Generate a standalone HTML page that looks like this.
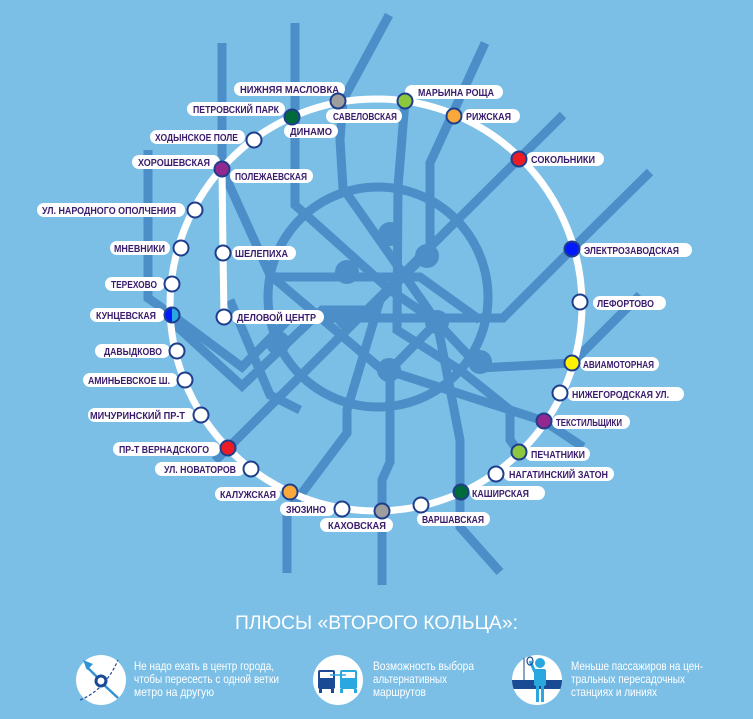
<!DOCTYPE html>
<html><head><meta charset="utf-8"><style>
html,body{margin:0;padding:0;background:#7bbfe7;}
svg{display:block}
.l{fill:none;stroke:#4b8ec8;stroke-width:9;stroke-linejoin:miter}
.lb{fill:#fff}
.t{font-family:"Liberation Sans","DejaVu Sans",sans-serif;font-size:10px;fill:#3a1c6c;font-weight:bold}
.s{stroke:#1f3e8c;stroke-width:2}
.w{font-family:"Liberation Sans","DejaVu Sans",sans-serif;fill:#fff}
</style></head><body>
<svg width="753" height="719" viewBox="0 0 753 719" xmlns="http://www.w3.org/2000/svg">
<rect width="753" height="719" fill="#7bbfe7"/>
<circle cx="378" cy="297" r="110" class="l"/>
<polyline class="l" points="563,115 228,448 215,461"/>
<polyline class="l" points="650,172 572,249 503,318 290,318 242,367 172,315 148,298 148,150"/>
<polyline class="l" points="172,322 242,386 322,310 380,310"/>
<polyline class="l" points="222,43 222,169 270,275 380,368 544,421 583,447"/>
<polyline class="l" points="295,23 295,205 390,290 437,322 460,440 460,527 500,572"/>
<polyline class="l" points="389,15 343,100 340,140 343,188 437,322 390,370 390,462 382,480 382,585"/>
<polyline class="l" points="485,43 430,163 430,250 380,300 347,410 347,433 287,513 287,573"/>
<polyline class="l" points="640,295 572,363 480,368 437,322"/>
<polyline class="l" points="405,101 398,187 397,330 460,370 510,410 510,440 519,452"/>
<polyline class="l" points="273,277 420,277 480,320"/>
<polyline class="l" points="230,300 270,395 300,410"/>
<g fill="#4b8ec8">
<circle cx="390" cy="234" r="12"/><circle cx="427" cy="256" r="12"/><circle cx="347" cy="272" r="12"/>
<circle cx="347" cy="318" r="12"/><circle cx="437" cy="322" r="12"/><circle cx="389" cy="370" r="12"/>
<circle cx="480" cy="362" r="12"/><circle cx="278" cy="343" r="12"/>
</g>
<circle cx="376" cy="305" r="206" fill="none" stroke="#fff" stroke-width="7"/>
<polyline points="222,169 223,253 224,317" fill="none" stroke="#fff" stroke-width="7"/>
<g>
<rect class="lb" x="234" y="82" width="111" height="14" rx="7"/><text class="t" x="240" y="93" textLength="99" lengthAdjust="spacingAndGlyphs">НИЖНЯЯ МАСЛОВКА</text>
<rect class="lb" x="187" y="102" width="98" height="14" rx="7"/><text class="t" x="193" y="113" textLength="86" lengthAdjust="spacingAndGlyphs">ПЕТРОВСКИЙ ПАРК</text>
<rect class="lb" x="326" y="109" width="76" height="14" rx="7"/><text class="t" x="333" y="120" textLength="64" lengthAdjust="spacingAndGlyphs">САВЕЛОВСКАЯ</text>
<rect class="lb" x="284" y="124" width="54" height="14" rx="7"/><text class="t" x="290" y="135" textLength="42" lengthAdjust="spacingAndGlyphs">ДИНАМО</text>
<rect class="lb" x="150" y="130" width="95" height="14" rx="7"/><text class="t" x="155" y="141" textLength="83" lengthAdjust="spacingAndGlyphs">ХОДЫНСКОЕ ПОЛЕ</text>
<rect class="lb" x="132" y="155" width="88" height="14" rx="7"/><text class="t" x="138" y="166" textLength="72" lengthAdjust="spacingAndGlyphs">ХОРОШЕВСКАЯ</text>
<rect class="lb" x="230" y="169" width="83" height="14" rx="7"/><text class="t" x="235" y="180" textLength="72" lengthAdjust="spacingAndGlyphs">ПОЛЕЖАЕВСКАЯ</text>
<rect class="lb" x="405" y="85" width="98" height="14" rx="7"/><text class="t" x="418" y="96" textLength="76" lengthAdjust="spacingAndGlyphs">МАРЬИНА РОЩА</text>
<rect class="lb" x="463" y="109" width="57" height="14" rx="7"/><text class="t" x="466" y="120" textLength="45" lengthAdjust="spacingAndGlyphs">РИЖСКАЯ</text>
<rect class="lb" x="526" y="152" width="78" height="14" rx="7"/><text class="t" x="531" y="163" textLength="64" lengthAdjust="spacingAndGlyphs">СОКОЛЬНИКИ</text>
<rect class="lb" x="37" y="203" width="148" height="14" rx="7"/><text class="t" x="42" y="214" textLength="134" lengthAdjust="spacingAndGlyphs">УЛ. НАРОДНОГО ОПОЛЧЕНИЯ</text>
<rect class="lb" x="110" y="241" width="60" height="14" rx="7"/><text class="t" x="114" y="252" textLength="51" lengthAdjust="spacingAndGlyphs">МНЕВНИКИ</text>
<rect class="lb" x="105" y="277" width="60" height="14" rx="7"/><text class="t" x="111" y="288" textLength="46" lengthAdjust="spacingAndGlyphs">ТЕРЕХОВО</text>
<rect class="lb" x="90" y="308" width="75" height="14" rx="7"/><text class="t" x="96" y="319" textLength="60" lengthAdjust="spacingAndGlyphs">КУНЦЕВСКАЯ</text>
<rect class="lb" x="95" y="344" width="75" height="14" rx="7"/><text class="t" x="104" y="355" textLength="58" lengthAdjust="spacingAndGlyphs">ДАВЫДКОВО</text>
<rect class="lb" x="83" y="373" width="95" height="14" rx="7"/><text class="t" x="88" y="384" textLength="82" lengthAdjust="spacingAndGlyphs">АМИНЬЕВСКОЕ Ш.</text>
<rect class="lb" x="88" y="408" width="107" height="14" rx="7"/><text class="t" x="90" y="419" textLength="95" lengthAdjust="spacingAndGlyphs">МИЧУРИНСКИЙ ПР-Т</text>
<rect class="lb" x="113" y="442" width="107" height="14" rx="7"/><text class="t" x="119" y="453" textLength="90" lengthAdjust="spacingAndGlyphs">ПР-Т ВЕРНАДСКОГО</text>
<rect class="lb" x="155" y="462" width="90" height="14" rx="7"/><text class="t" x="164" y="473" textLength="72" lengthAdjust="spacingAndGlyphs">УЛ. НОВАТОРОВ</text>
<rect class="lb" x="215" y="487" width="65" height="14" rx="7"/><text class="t" x="220" y="498" textLength="56" lengthAdjust="spacingAndGlyphs">КАЛУЖСКАЯ</text>
<rect class="lb" x="280" y="502" width="55" height="14" rx="7"/><text class="t" x="286" y="513" textLength="40" lengthAdjust="spacingAndGlyphs">ЗЮЗИНО</text>
<rect class="lb" x="320" y="518" width="73" height="14" rx="7"/><text class="t" x="328" y="529" textLength="58" lengthAdjust="spacingAndGlyphs">КАХОВСКАЯ</text>
<rect class="lb" x="417" y="512" width="73" height="14" rx="7"/><text class="t" x="422" y="523" textLength="62" lengthAdjust="spacingAndGlyphs">ВАРШАВСКАЯ</text>
<rect class="lb" x="470" y="486" width="75" height="14" rx="7"/><text class="t" x="472" y="497" textLength="57" lengthAdjust="spacingAndGlyphs">КАШИРСКАЯ</text>
<rect class="lb" x="503" y="467" width="111" height="14" rx="7"/><text class="t" x="509" y="478" textLength="99" lengthAdjust="spacingAndGlyphs">НАГАТИНСКИЙ ЗАТОН</text>
<rect class="lb" x="525" y="447" width="65" height="14" rx="7"/><text class="t" x="531" y="458" textLength="54" lengthAdjust="spacingAndGlyphs">ПЕЧАТНИКИ</text>
<rect class="lb" x="552" y="415" width="78" height="14" rx="7"/><text class="t" x="556" y="426" textLength="66" lengthAdjust="spacingAndGlyphs">ТЕКСТИЛЬЩИКИ</text>
<rect class="lb" x="567" y="387" width="117" height="14" rx="7"/><text class="t" x="572" y="398" textLength="97" lengthAdjust="spacingAndGlyphs">НИЖЕГОРОДСКАЯ УЛ.</text>
<rect class="lb" x="580" y="357" width="79" height="14" rx="7"/><text class="t" x="583" y="368" textLength="71" lengthAdjust="spacingAndGlyphs">АВИАМОТОРНАЯ</text>
<rect class="lb" x="593" y="296" width="73" height="14" rx="7"/><text class="t" x="597" y="307" textLength="57" lengthAdjust="spacingAndGlyphs">ЛЕФОРТОВО</text>
<rect class="lb" x="580" y="243" width="112" height="14" rx="7"/><text class="t" x="584" y="254" textLength="95" lengthAdjust="spacingAndGlyphs">ЭЛЕКТРОЗАВОДСКАЯ</text>
<rect class="lb" x="232" y="246" width="64" height="14" rx="7"/><text class="t" x="235" y="257" textLength="53" lengthAdjust="spacingAndGlyphs">ШЕЛЕПИХА</text>
<rect class="lb" x="232" y="310" width="92" height="14" rx="7"/><text class="t" x="237" y="321" textLength="79" lengthAdjust="spacingAndGlyphs">ДЕЛОВОЙ ЦЕНТР</text>
</g>
<g class="s">
<circle cx="338" cy="101" r="7.5" fill="#9e9e9e"/>
<circle cx="405" cy="101" r="7.5" fill="#8dc63f"/>
<circle cx="454" cy="116" r="7.5" fill="#f9a83a"/>
<circle cx="292" cy="117" r="7.5" fill="#006b3a"/>
<circle cx="254" cy="140" r="7.5" fill="#fff"/>
<circle cx="222" cy="169" r="7.5" fill="#92278f"/>
<circle cx="519" cy="159" r="7.5" fill="#ed1c24"/>
<circle cx="195" cy="210" r="7.5" fill="#fff"/>
<circle cx="181" cy="248" r="7.5" fill="#fff"/>
<circle cx="172" cy="284" r="7.5" fill="#fff"/>
<circle cx="177" cy="351" r="7.5" fill="#fff"/>
<circle cx="185" cy="380" r="7.5" fill="#fff"/>
<circle cx="201" cy="415" r="7.5" fill="#fff"/>
<circle cx="228" cy="448" r="7.5" fill="#ed1c24"/>
<circle cx="251" cy="469" r="7.5" fill="#fff"/>
<circle cx="290" cy="492" r="7.5" fill="#f9a83a"/>
<circle cx="342" cy="509" r="7.5" fill="#fff"/>
<circle cx="382" cy="511" r="7.5" fill="#9e9e9e"/>
<circle cx="421" cy="505" r="7.5" fill="#fff"/>
<circle cx="461" cy="492" r="7.5" fill="#006b3a"/>
<circle cx="496" cy="474" r="7.5" fill="#fff"/>
<circle cx="519" cy="452" r="7.5" fill="#8dc63f"/>
<circle cx="544" cy="421" r="7.5" fill="#92278f"/>
<circle cx="560" cy="393" r="7.5" fill="#fff"/>
<circle cx="572" cy="363" r="7.5" fill="#fff200"/>
<circle cx="580" cy="302" r="7.5" fill="#fff"/>
<circle cx="572" cy="249" r="7.5" fill="#0019ff"/>
<circle cx="223" cy="253" r="7.5" fill="#fff"/>
<circle cx="224" cy="317" r="7.5" fill="#fff"/>
</g>
<path d="M172,307.5 A7.5,7.5 0 0 0 172,322.5 Z" fill="#0019ff"/>
<path d="M172,307.5 A7.5,7.5 0 0 1 172,322.5 Z" fill="#29a8e0"/>
<circle cx="172" cy="315" r="7.5" fill="none" class="s"/>
<text class="w" x="235" y="629" font-size="19" textLength="283" lengthAdjust="spacingAndGlyphs">ПЛЮСЫ «ВТОРОГО КОЛЬЦА»:</text>
<circle cx="101" cy="680" r="25" fill="#fff"/>
<path d="M80,700 Q105,690 118,660" fill="none" stroke="#1f4e96" stroke-width="1.2" stroke-dasharray="3,2"/>
<line x1="103" y1="684" x2="118" y2="698" stroke="#2f94d4" stroke-width="2.5"/>
<line x1="98" y1="678" x2="86" y2="666" stroke="#2f94d4" stroke-width="2.5"/>
<polygon points="83,660 93,664 87,670" fill="#2f94d4"/>
<circle cx="101" cy="681" r="5" fill="none" stroke="#1a4a94" stroke-width="3"/>
<circle cx="338" cy="680" r="25" fill="#fff"/>
<rect x="318" y="670" width="17" height="19" rx="2" fill="#1a4a94"/><rect x="320" y="672" width="13" height="6" fill="#fff"/>
<rect x="319" y="689" width="3" height="4" fill="#1a4a94"/><rect x="331" y="689" width="3" height="4" fill="#1a4a94"/>
<rect x="340" y="670" width="17" height="19" rx="2" fill="#29a8e0"/><rect x="342" y="672" width="13" height="6" fill="#fff"/>
<rect x="340" y="689" width="3" height="4" fill="#29a8e0"/><rect x="354" y="689" width="3" height="4" fill="#29a8e0"/>
<line x1="330" y1="675" x2="346" y2="675" stroke="#29a8e0" stroke-width="1.5"/>
<circle cx="537" cy="680" r="25" fill="#fff"/>
<clipPath id="c3"><circle cx="537" cy="680" r="25"/></clipPath>
<rect x="510" y="680" width="55" height="9" fill="#1a4a94" clip-path="url(#c3)"/>
<line x1="524" y1="658" x2="524" y2="680" stroke="#1a4a94" stroke-width="1"/>
<circle cx="540" cy="663" r="5" fill="#29a8e0"/>
<rect x="534" y="669" width="12" height="17" rx="2" fill="#29a8e0"/>
<rect x="536" y="685" width="3" height="17" fill="#29a8e0"/><rect x="541" y="685" width="3" height="17" fill="#29a8e0"/>
<line x1="535" y1="672" x2="530" y2="661" stroke="#29a8e0" stroke-width="3"/>
<ellipse cx="530" cy="661" rx="3" ry="4" fill="none" stroke="#1a4a94" stroke-width="1.2"/>
<g class="w" font-size="12">
<text x="134" y="670" textLength="140" lengthAdjust="spacingAndGlyphs">Не надо ехать в центр города,</text>
<text x="134" y="683" textLength="145" lengthAdjust="spacingAndGlyphs">чтобы пересесть с одной ветки</text>
<text x="134" y="696" textLength="80" lengthAdjust="spacingAndGlyphs">метро на другую</text>
<text x="373" y="670" textLength="101" lengthAdjust="spacingAndGlyphs">Возможность выбора</text>
<text x="373" y="683" textLength="74" lengthAdjust="spacingAndGlyphs">альтернативных</text>
<text x="373" y="696" textLength="53" lengthAdjust="spacingAndGlyphs">маршрутов</text>
<text x="571" y="670" textLength="132" lengthAdjust="spacingAndGlyphs">Меньше пассажиров на цен-</text>
<text x="571" y="683" textLength="114" lengthAdjust="spacingAndGlyphs">тральных пересадочных</text>
<text x="571" y="696" textLength="86" lengthAdjust="spacingAndGlyphs">станциях и линиях</text>
</g>
</svg>
</body></html>
